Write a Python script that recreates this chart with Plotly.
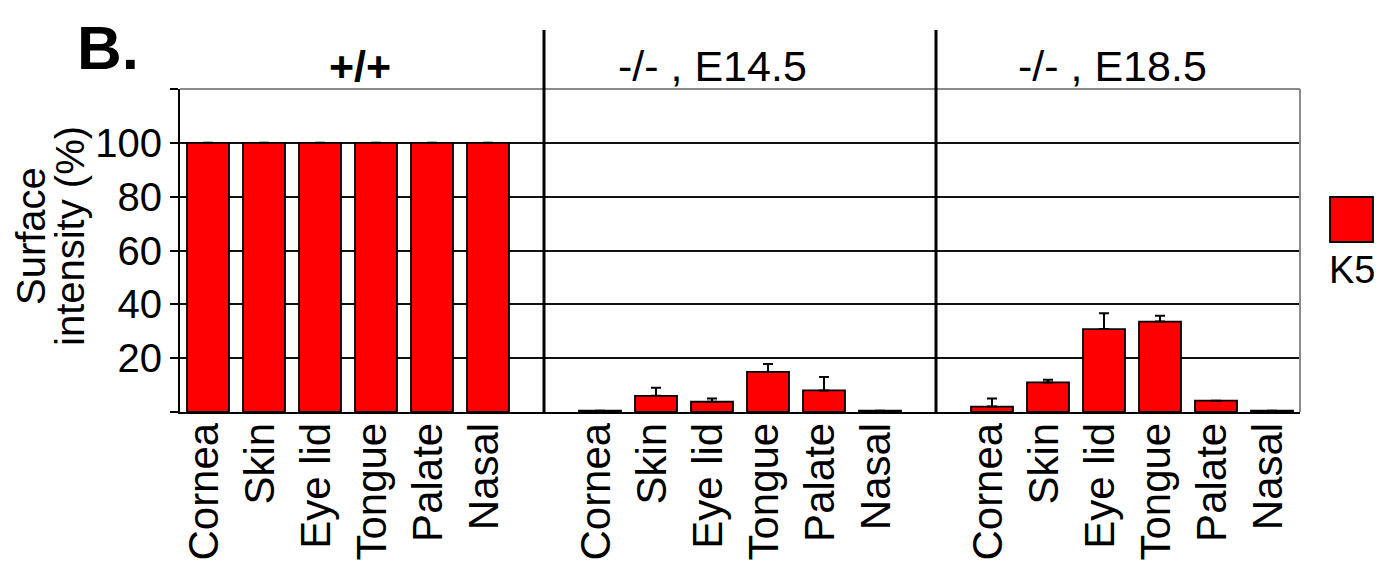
import plotly.graph_objects as go

# ---- data ----
tissues = ["Cornea", "Skin", "Eye lid", "Tongue", "Palate", "Nasal"]
group_titles = ["+/+", "-/- , E14.5", "-/- , E18.5"]
wt_values = [100, 100, 100, 100, 100, 100]
wt_err = [0, 0, 0, 0, 0, 0]
e145_values = [0.5, 6, 3.8, 14.9, 8, 0.5]
e145_err = [0, 3, 1.2, 2.9, 5, 0]
e185_values = [2, 11, 30.8, 33.6, 4.2, 0.5]
e185_err = [3, 1, 5.9, 2.2, 0, 0]
y_ticks = [0, 20, 40, 60, 80, 100, 120]
y_ticktext = ["", "20", "40", "60", "80", "100", ""]
legend_label = "K5"

groups = [(wt_values, wt_err), (e145_values, e145_err), (e185_values, e185_err)]

FONT = "Liberation Sans, Arial, sans-serif"
RED = "#FF0000"
OFF = 8  # page body margin
W, H = 1382 - 2 * OFF, 574 - 2 * OFF
L, T, PW, PH = 180 - OFF, 89 - OFF, 1120, 323


def px(xref_px):
    return (xref_px - OFF - L) / PW


def py(yref_px):
    return (T + PH - (yref_px - OFF)) / PH


fig = go.Figure()
tickvals, ticktext = [], []
for g, (vals, errs) in enumerate(groups):
    xs = [g * 7 + i for i in range(len(tissues))]
    tickvals += xs
    ticktext += tissues
    fig.add_trace(go.Bar(
        x=xs, y=vals, width=0.75,
        marker=dict(color=RED, line=dict(color="black", width=1.8)),
        error_y=dict(type="data", symmetric=False, array=errs,
                     arrayminus=[0] * len(errs), color="black",
                     thickness=2, width=5, visible=True),
        showlegend=False,
    ))

fig.update_layout(
    width=W, height=H,
    margin=dict(l=L, r=W - L - PW, t=T, b=H - T - PH, autoexpand=False),
    paper_bgcolor="white", plot_bgcolor="white",
    font=dict(family=FONT, color="black"),
    xaxis=dict(range=[-0.5, 19.5], tickmode="array", tickvals=tickvals,
               ticktext=ticktext, tickangle=-90, ticks="", ticklen=0,
               ticklabelstandoff=-8, ticklabelshift=-4,
               tickfont=dict(size=42, family=FONT),
               showgrid=False, showline=True, linecolor="black",
               linewidth=2, zeroline=False, automargin=False),
    yaxis=dict(range=[0, 120], tickmode="array", tickvals=y_ticks,
               ticktext=y_ticktext, ticks="outside", ticklen=8,
               tickwidth=1.5, tickcolor="black",
               tickfont=dict(size=40, family=FONT),
               showgrid=True, gridcolor="#111", gridwidth=1.5,
               showline=True, linecolor="black", linewidth=2,
               zeroline=False, automargin=False),
)

# plot frame (top/right, gray)
fig.add_shape(type="line", xref="paper", yref="paper", x0=0, x1=1, y0=1, y1=1,
              line=dict(color="#8a8a8a", width=2))
fig.add_shape(type="line", xref="paper", yref="paper", x0=1, x1=1, y0=0, y1=1,
              line=dict(color="#8a8a8a", width=2))

# group dividers
for xd in [6, 13]:
    fig.add_shape(type="line", xref="x", yref="paper", x0=xd, x1=xd,
                  y0=0, y1=py(30), line=dict(color="black", width=3))

# group titles
title_px = [360, 712, 1112]
for g, t in enumerate(group_titles):
    fig.add_annotation(x=px(title_px[g]), y=py(66), xref="paper", yref="paper",
                       text=("<b>%s</b>" % t) if g == 0 else t,
                       showarrow=False, xanchor="center", yanchor="middle",
                       font=dict(size=43, family=FONT))

# panel label
fig.add_annotation(x=px(108), y=py(47), xref="paper", yref="paper",
                   text="<b>B.</b>", showarrow=False,
                   xanchor="center", yanchor="middle",
                   font=dict(size=62, family=FONT))

# y-axis title (two rotated lines)
fig.add_annotation(x=px(31), y=py(236), xref="paper", yref="paper",
                   text="Surface", textangle=-90, showarrow=False,
                   xanchor="center", yanchor="middle",
                   font=dict(size=40, family=FONT))
fig.add_annotation(x=px(70), y=py(236), xref="paper", yref="paper",
                   text="intensity (%)", textangle=-90, showarrow=False,
                   xanchor="center", yanchor="middle",
                   font=dict(size=40, family=FONT))

# legend
fig.add_shape(type="rect", xref="paper", yref="paper",
              x0=px(1330), x1=px(1373), y0=py(242), y1=py(197),
              fillcolor=RED, line=dict(color="black", width=1.8))
fig.add_annotation(x=px(1352), y=py(270), xref="paper", yref="paper",
                   text=legend_label, showarrow=False,
                   xanchor="center", yanchor="middle",
                   font=dict(size=38, family=FONT))

fig.write_html("out.html")
